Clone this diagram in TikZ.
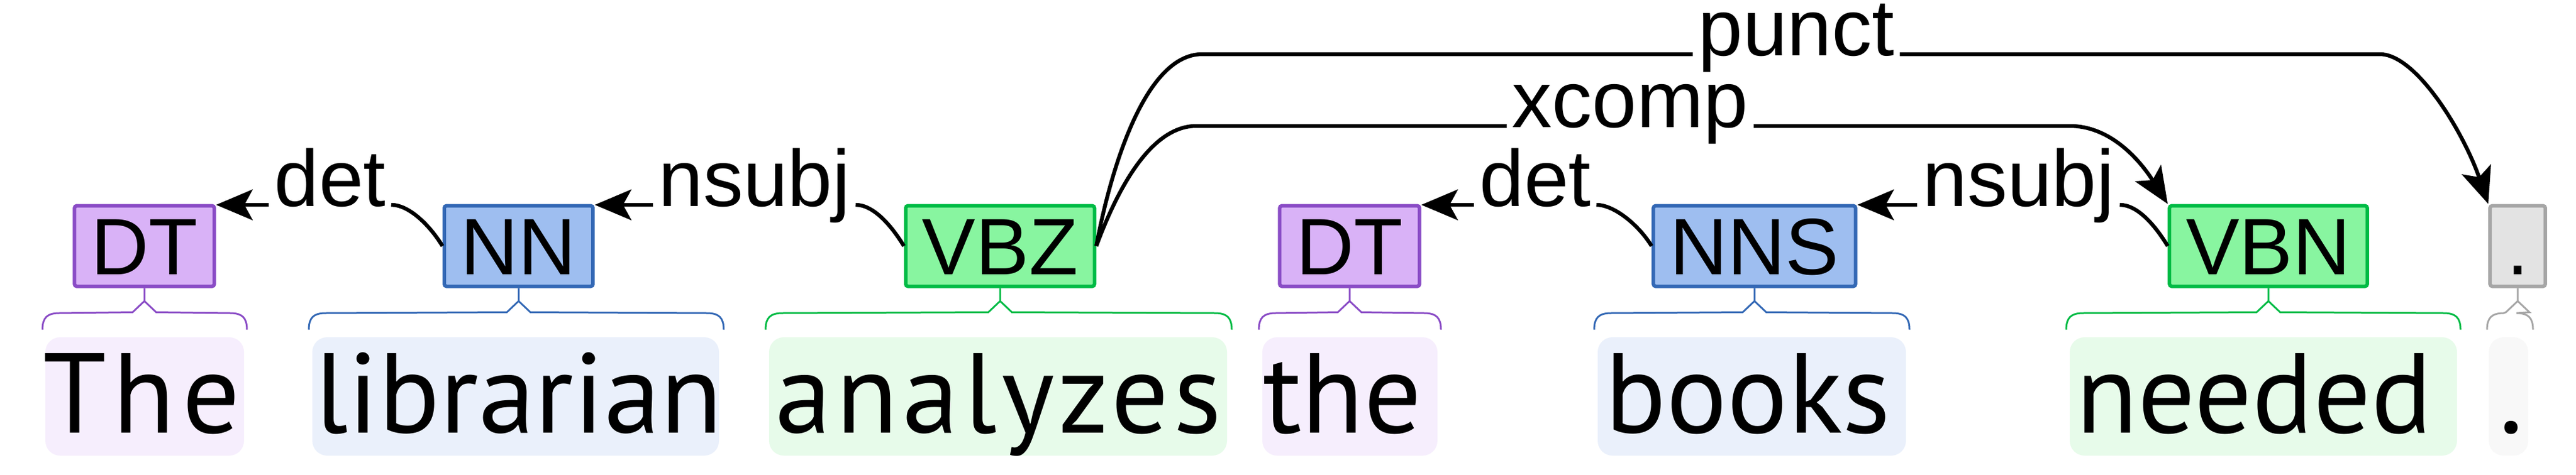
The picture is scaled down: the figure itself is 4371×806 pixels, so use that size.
\documentclass[tikz,border=0pt]{standalone}
\usepackage{fontspec}
\setmainfont{PT Sans}
\newfontfamily\lblfont{Liberation Sans}
\usetikzlibrary{arrows.meta,calc}
\definecolor{dtfill}{HTML}{D9B2F7}
\definecolor{dtline}{HTML}{8A4CC6}
\definecolor{dtword}{HTML}{F6EEFD}
\definecolor{nnfill}{HTML}{9EBEF0}
\definecolor{nnline}{HTML}{3368B5}
\definecolor{nnword}{HTML}{EAF0FB}
\definecolor{vbfill}{HTML}{88F5A0}
\definecolor{vbline}{HTML}{00BB45}
\definecolor{vbword}{HTML}{E7FBEA}
\definecolor{ptfill}{HTML}{E3E3E3}
\definecolor{ptline}{HTML}{A6A6A6}
\definecolor{ptword}{HTML}{F8F8F8}
\newcommand\tagbrace[4]{%
  \draw[#4, line width=3pt] (#1.south) -- ++(0,22) -- ($(#1.south)+(-20,41)$) -- (#2+28,532) .. controls (#2+8,532) and (#2,540) .. (#2,560);
  \draw[#4, line width=3pt] (#1.south) ++(0,22) -- ($(#1.south)+(20,41)$) -- (#3-28,532) .. controls (#3-8,532) and (#3,540) .. (#3,560);}

\begin{document}
\begin{tikzpicture}[x=1pt,y=-1pt,
    posbox/.style={draw, line width=6pt, rounded corners=4pt, minimum height=137pt, inner xsep=28pt, inner ysep=0pt, text height=97pt, text depth=0pt, font=\lblfont\fontsize{136}{136}\selectfont},
    arclbl/.style={anchor=mid, inner xsep=9pt, inner ysep=0pt, font=\lblfont\fontsize{136}{136}\selectfont},
    tokword/.style={anchor=base west, inner sep=0pt, font=\fontsize{193}{193}\selectfont},
    deparc/.style={line width=6.5pt},
    deptip/.style={deparc, -{Stealth[length=62pt,width=52pt,inset=14pt]}}]
                        \useasboundingbox (0,0) rectangle (4371,806);
                        \fill[white] (0,0) rectangle (4371,806);
                        \fill[dtword, rounded corners=25pt] (77,573) rectangle (414,774);
                        \fill[nnword, rounded corners=25pt] (530,573) rectangle (1220,774);
                        \fill[vbword, rounded corners=25pt] (1305,573) rectangle (2082,774);
                        \fill[dtword, rounded corners=25pt] (2142,573) rectangle (2439,774);
                        \fill[nnword, rounded corners=25pt] (2711,573) rectangle (3234,774);
                        \fill[vbword, rounded corners=25pt] (3512,573) rectangle (4169,774);
                        \fill[ptword, rounded corners=25pt] (4223,573) rectangle (4290,774);
                        \node[posbox, fill=dtfill, draw=dtline] (dt1) at (245,418) {DT};
                        \node[posbox, fill=nnfill, draw=nnline] (nn) at (880,418) {NN};
                        \node[posbox, fill=vbfill, draw=vbline] (vbz) at (1697,418) {VBZ};
                        \node[posbox, fill=dtfill, draw=dtline] (dt2) at (2290,418) {DT};
                        \node[posbox, fill=nnfill, draw=nnline] (nns) at (2977,418) {NNS};
                        \node[posbox, fill=vbfill, draw=vbline] (vbn) at (3849,418) {VBN};
                        \node[posbox, fill=ptfill, draw=ptline] (pct) at (4272,418) {.};
                        \tagbrace{dt1}{72}{419}{dtline}
                        \tagbrace{nn}{524}{1228}{nnline}
                        \tagbrace{vbz}{1299}{2090}{vbline}
                        \tagbrace{dt2}{2136}{2445}{dtline}
                        \tagbrace{nns}{2705}{3240}{nnline}
                        \tagbrace{vbn}{3506}{4175}{vbline}
                        \tagbrace{pct}{4220}{4298}{ptline}
                        \node[tokword] (the1) at (73,735) {\addfontfeature{LetterSpace=6}The};
                        \node[tokword] (librarian) at (534,735) {librarian};
                        \node[tokword] (analyzes) at (1315,735) {\addfontfeature{LetterSpace=4}analyzes};
                        \node[tokword] (the2) at (2143,735) {the};
                        \node[tokword] (books) at (2723,735) {books};
                        \node[tokword] (needed) at (3522,735) {needed};
                        \node[tokword] (dot) at (4240,735) {.};
                        \node[arclbl] (ldet1) at (560,348) {det};
                        \node[arclbl] (lnsubj1) at (1280,348) {nsubj};
                        \node[arclbl] (ldet2) at (2605,348) {det};
                        \node[arclbl] (lnsubj2) at (3425,348) {nsubj};
                        \node[arclbl] (lxcomp) at (2766,214) {xcomp};
                        \node[arclbl] (lpunct) at (3048,92) {punct};
                        \draw[deparc] (nn.west) .. controls +(-22,-36) and +(30,0) .. (ldet1.mid east);
                        \draw[deptip] (ldet1.mid west) -- (dt1.north east |- ldet1.mid west);
                        \draw[deparc] (vbz.west) .. controls +(-22,-36) and +(30,0) .. (lnsubj1.mid east);
                        \draw[deptip] (lnsubj1.mid west) -- (nn.north east |- lnsubj1.mid west);
                        \draw[deparc] (nns.west) .. controls +(-22,-36) and +(30,0) .. (ldet2.mid east);
                        \draw[deptip] (ldet2.mid west) -- (dt2.north east |- ldet2.mid west);
                        \draw[deparc] (vbn.west) .. controls +(-22,-36) and +(30,0) .. (lnsubj2.mid east);
                        \draw[deptip] (lnsubj2.mid west) -- (nns.north east |- lnsubj2.mid west);
                        \draw[deparc] (vbz.east) .. controls +(33,-89) and +(-80,0) .. (2030,214) -- (lxcomp.mid west);
                        \draw[deptip] (lxcomp.mid east) -- (3512,214) .. controls +(80,0) and +(-35,-55) .. (vbn.north west);
                        \draw[deparc] (vbz.east) .. controls +(22,-119) and +(-100,0) .. (2040,92) -- (lpunct.mid west);
                        \draw[deptip] (lpunct.mid east) -- (4038,92) .. controls +(62,0) and +(-42,-122) .. (pct.north west);
                    \end{tikzpicture}
\end{document}
